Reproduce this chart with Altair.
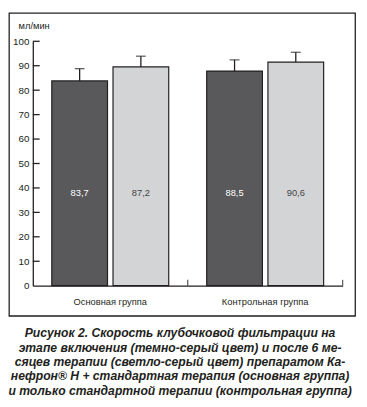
import altair as alt
import pandas as pd

groups = ["Основная группа", "Контрольная группа"]
series = ["до", "после"]
bar_before = [83.8, 87.8]
bar_after = [89.5, 91.5]
err_before = [88.8, 92.4]
err_after = [93.9, 95.5]
labels_before = ["83,7", "88,5"]
labels_after = ["87,2", "90,6"]
y_ticks = [10, 20, 30, 40, 50, 60, 70, 80, 90, 100]
caption = [
    "Рисунок 2. Скорость клубочковой фильтрации на",
    "этапе включения (темно-серый цвет) и после 6 ме-",
    "сяцев терапии (светло-серый цвет) препаратом Ка-",
    "нефрон® Н + стандартная терапия (основная группа)",
    "и только стандартной терапии (контрольная группа)",
]

rows = []
for i, g in enumerate(groups):
    rows.append({"group": g, "series": series[0], "value": bar_before[i],
                 "upper": err_before[i], "label": labels_before[i]})
    rows.append({"group": g, "series": series[1], "value": bar_after[i],
                 "upper": err_after[i], "label": labels_after[i]})
df = pd.DataFrame(rows)
ticks_df = pd.DataFrame({"value": y_ticks})
groups_df = pd.DataFrame({"group": groups})

FONT = "Liberation Sans"
INK = "#231f20"

# the view is the outer frame; the plot lives inside it
VIEW_W, VIEW_H = 353, 309
PX_LEFT, PX_RIGHT = 24.3, 340.3
PY_ZERO, PY_TOP = 278.3, 29

x_scale = alt.Scale(domain=groups, paddingInner=0, paddingOuter=0,
                    range=[PX_LEFT, PX_RIGHT])
y_scale = alt.Scale(domain=[0, 100], nice=False, range=[PY_ZERO, PY_TOP])

x_axis = alt.Axis(title=None, ticks=False, labelPadding=11, offset=-(VIEW_H - PY_ZERO),
                  labelFontSize=9.5, labelColor=INK, labelFont=FONT,
                  domainColor=INK, domainWidth=1.3, labelAngle=0, grid=False)
y_axis = alt.Axis(tickCount=10, ticks=False, tickSize=0, labelPadding=4, grid=False,
                  labelOverlap=False, offset=-PX_LEFT,
                  labelFontSize=10, labelColor=INK, labelFont=FONT,
                  domainColor=INK, domainWidth=1.3,
                  title="мл/мин", titleAngle=0, titleAlign="left",
                  titleBaseline="middle", titleX=-15, titleY=13,
                  titleFontSize=9.5, titleFontWeight="normal",
                  titleFont=FONT, titleColor=INK)

xg = alt.X("group:N", sort=groups, scale=x_scale, axis=x_axis)
xo = alt.XOffset("series:N", sort=series,
                 scale=alt.Scale(paddingInner=0.09, paddingOuter=0.31))


def yq(field):
    return alt.Y(field, scale=y_scale, axis=y_axis)


bars = alt.Chart(df).mark_bar(stroke=INK, strokeWidth=1.2).encode(
    x=xg, xOffset=xo, y=yq("value:Q"),
    color=alt.Color("series:N", sort=series, legend=None,
                    scale=alt.Scale(domain=series, range=["#59595b", "#d3d4d6"])),
)
err = alt.Chart(df).mark_rule(color=INK, strokeWidth=1.3).encode(
    x=xg, xOffset=xo, y=yq("value:Q"), y2="upper:Q",
)
caps = alt.Chart(df).mark_tick(color=INK, thickness=1.3, size=10).encode(
    x=xg, xOffset=xo, y=yq("upper:Q"),
)
texts = alt.Chart(df).mark_text(font=FONT, fontSize=9.5, baseline="middle").encode(
    x=xg, xOffset=xo,
    y=alt.datum(38),
    text="label:N",
    color=alt.condition(alt.datum.series == series[0], alt.value("#ffffff"), alt.value("#444444")),
)
yticks = alt.Chart(ticks_df).mark_rule(color=INK, strokeWidth=1.3).encode(
    y=yq("value:Q"), x=alt.value(PX_LEFT), x2=alt.value(PX_LEFT + 7),
)
xticks = alt.Chart(groups_df).mark_tick(color=INK, thickness=1.3, size=6,
                                        orient="vertical", yOffset=-3).encode(
    x=alt.X("group:N", sort=groups, scale=x_scale, axis=x_axis, bandPosition=1),
    y=alt.datum(0),
)

chart = alt.layer(bars, err, caps, texts, yticks, xticks).properties(
    width=VIEW_W, height=VIEW_H,
    padding={"left": 1, "top": 1, "right": 4, "bottom": 86},
    autosize=alt.AutoSizeParams(type="none"),
    title=alt.TitleParams(text=caption, orient="bottom", anchor="middle",
                          font=FONT, fontSize=12.4, fontStyle="italic",
                          fontWeight="bold", color=INK, lineHeight=14.6,
                          offset=12, dx=-2),
).configure_view(stroke=INK, strokeWidth=1.3)

chart.save("out.html", embed_options={"renderer": "svg", "actions": False})
